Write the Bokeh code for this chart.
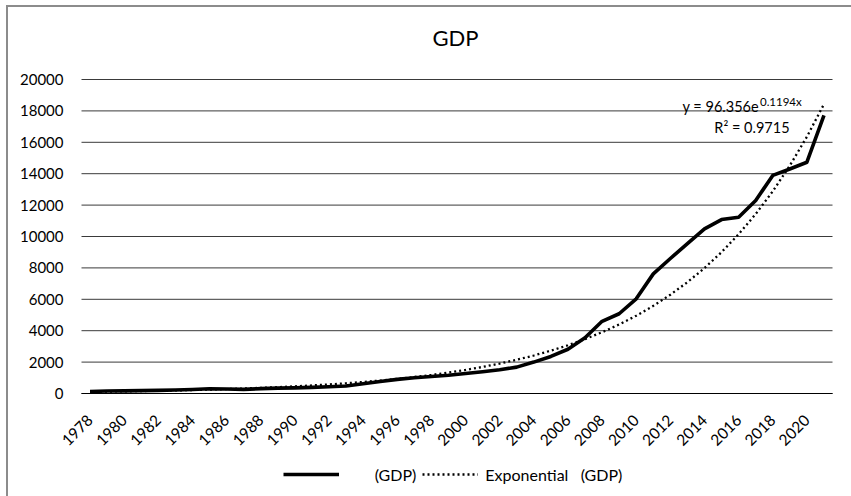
import math
from bokeh.plotting import figure
from bokeh.models import Range1d, FixedTicker, Legend, LegendItem, Label, ColumnDataSource
from bokeh.embed import file_html
from bokeh.resources import INLINE

# ---- data ----
years = list(range(1978, 2022))
gdp = [130, 160, 170, 180, 200, 220, 250, 300, 290, 260,
       310, 340, 360, 390, 430, 480, 620, 760, 900, 1000,
       1080, 1160, 1270, 1380, 1510, 1680, 2000, 2360, 2820, 3550,
       4600, 5080, 6030, 7620, 8600, 9540, 10490, 11080, 11230, 12290,
       13890, 14300, 14730, 17710]
x_tick_years = years[::2]
y_ticks = [0, 2000, 4000, 6000, 8000, 10000, 12000, 14000, 16000, 18000, 20000]
series_name = "(GDP)"
trend_a = 96.356
trend_b = 0.1194
trend_r2 = 0.9715
title_text = "GDP"

trend = [trend_a * math.exp(trend_b * (i + 1)) for i in range(len(years))]

FONT = "Lato"

# layout: the frame fills the canvas below the title; the plot area
# (years[0]-0.5 .. years[-1]+0.5, 0 .. 20000) sits inside it with the
# margins below, so axis labels and legend are drawn inside the frame.
W, H = 851, 496
FRAME_TOP = 60                 # top edge of the drawing frame
TOP, LEFT, RIGHT = 79, 81, 19  # plot-area margins
AXIS_PX = 314                  # pixel height of the 0..20000 axis
x_lo, x_hi = years[0] - 0.5, years[-1] + 0.5
px_per_year = (W - LEFT - RIGHT) / len(years)
x_start = x_lo - LEFT / px_per_year
x_end = x_hi + RIGHT / px_per_year
units_per_px = y_ticks[-1] / AXIS_PX
y_max = y_ticks[-1] + (TOP - FRAME_TOP) * units_per_px
y_min = y_ticks[-1] - (H - TOP) * units_per_px

p = figure(width=W, height=H, output_backend="svg", toolbar_location=None,
           x_range=Range1d(x_start, x_end),
           y_range=Range1d(y_min, y_max),
           min_border_left=0, min_border_right=0, min_border_top=FRAME_TOP, min_border_bottom=0)
p.styles = {
    "background": "linear-gradient(#8c8c8c, #8c8c8c) 6px 5px / 2px 100% no-repeat, "
                  "linear-gradient(#8c8c8c, #8c8c8c) 6px 5px / 100% 2px no-repeat, white",
}
p.background_fill_color = "white"
p.background_fill_alpha = 0
p.border_fill_alpha = 0
p.outline_line_color = None

p.title.text = title_text
p.title.align = "left"
p.title.offset = 432
p.title.text_font = FONT
p.title.text_font_size = "22px"
p.title.text_font_style = "normal"
p.title.text_color = "#000000"
p.title.standoff = 20

# axes (drawn at fixed data positions inside the frame)
p.xaxis.fixed_location = 0
p.xaxis.bounds = (x_lo, x_hi)
p.xaxis.ticker = FixedTicker(ticks=x_tick_years)
p.xaxis.major_label_orientation = math.pi / 4
p.xaxis.major_tick_line_color = None
p.xaxis.major_tick_out = 0
p.xaxis.major_tick_in = 0
p.xaxis.minor_tick_line_color = None
p.xaxis.axis_line_color = "#000000"
p.xaxis.axis_line_width = 1.2
p.xaxis.major_label_text_font = FONT
p.xaxis.major_label_text_font_size = "15.5px"
p.xaxis.major_label_text_color = "#000000"
p.xaxis.major_label_standoff = 24

p.yaxis.fixed_location = x_lo
p.yaxis.bounds = (y_ticks[0], y_ticks[-1])
p.yaxis.ticker = FixedTicker(ticks=y_ticks)
p.yaxis.major_tick_line_color = None
p.yaxis.major_tick_out = 0
p.yaxis.major_tick_in = 0
p.yaxis.minor_tick_line_color = None
p.yaxis.axis_line_color = None
p.yaxis.major_label_text_font = FONT
p.yaxis.major_label_text_font_size = "15px"
p.yaxis.major_label_text_color = "#000000"
p.yaxis.major_label_standoff = 18

# horizontal gridlines spanning only the plot area
p.xgrid.grid_line_color = None
p.ygrid.grid_line_color = None
p.segment(x0=[x_lo] * len(y_ticks), x1=[x_hi] * len(y_ticks), y0=y_ticks, y1=y_ticks,
          line_color="#3a3a3a", line_width=1)

src = ColumnDataSource(dict(x=years, gdp=gdp, trend=trend))
r_gdp = p.line("x", "gdp", source=src, line_color="black", line_width=3.6, line_join="round")
r_trend = p.line("x", "trend", source=src, line_color="black", line_width=2.3,
                 line_dash="2 3")

# trendline equation
lx = years[-1]
ly = trend[-1]
p.add_layout(Label(x=lx, y=ly, x_offset=-65, y_offset=-11, text="y = %.3fe" % trend_a,
                   text_align="right", text_font=FONT, text_font_size="14.5px",
                   text_color="#000000"))
p.add_layout(Label(x=lx, y=ly, x_offset=-64, y_offset=-4, text="%.4fx" % trend_b,
                   text_align="left", text_font=FONT, text_font_size="11.5px",
                   text_color="#000000"))
p.add_layout(Label(x=lx, y=ly, x_offset=-72, y_offset=-32, text="R\u00b2 = %.4f" % trend_r2,
                   text_align="center", text_font=FONT, text_font_size="14.5px",
                   text_color="#000000"))

legend = Legend(items=[
    LegendItem(label="\u00a0" * 7 + series_name, renderers=[r_gdp]),
    LegendItem(label="Exponential\u00a0\u00a0\u00a0" + series_name, renderers=[r_trend]),
], orientation="horizontal", location=(283, 12))
legend.label_text_font = FONT
legend.label_text_font_size = "16px"
legend.label_text_color = "#000000"
legend.glyph_width = 56
legend.label_standoff = 7
legend.spacing = 6
legend.padding = 5
legend.margin = 0
legend.border_line_color = None
legend.background_fill_alpha = 0
p.add_layout(legend)

open("out.html", "w").write(file_html(p, INLINE))
